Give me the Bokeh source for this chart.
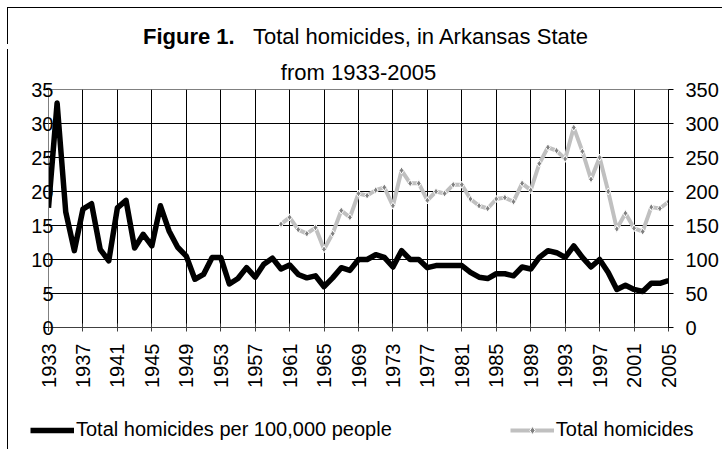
import math
from bokeh.plotting import figure
from bokeh.models import (Range1d, LinearAxis, FixedTicker, Legend, LegendItem,
                          Title, Div)
from bokeh.embed import file_html
from bokeh.resources import INLINE

years = list(range(1933, 2006))
rate_per_100k = [17.6, 33.0, 17.0, 11.3, 17.4, 18.2, 11.5, 9.8, 17.6, 18.7,
                 11.7, 13.7, 12.0, 17.9, 14.2, 11.8, 10.5, 7.1, 7.8, 10.3,
                 10.3, 6.4, 7.2, 8.8, 7.4, 9.3, 10.2, 8.6, 9.2, 7.8,
                 7.3, 7.6, 6.0, 7.3, 8.8, 8.4, 10.0, 10.0, 10.7, 10.3,
                 8.9, 11.3, 10.0, 10.0, 8.8, 9.1, 9.1, 9.1, 9.1, 8.1,
                 7.4, 7.2, 7.9, 7.9, 7.6, 8.9, 8.6, 10.3, 11.3, 11.0,
                 10.3, 12.0, 10.3, 8.9, 10.0, 8.1, 5.6, 6.2, 5.6, 5.3,
                 6.5, 6.5, 6.9]

count_years = list(range(1960, 2006))
total_homicides = [152, 162, 144, 138, 147, 115, 138, 172, 162, 197,
                   194, 202, 206, 179, 231, 212, 212, 187, 200, 197,
                   210, 210, 189, 179, 175, 189, 191, 185, 212, 202,
                   241, 265, 260, 248, 294, 259, 218, 250, 200, 145,
                   168, 146, 141, 177, 175, 185]

x_ticks = list(range(1933, 2006, 4))
left_ticks = [0, 5, 10, 15, 20, 25, 30, 35]
right_ticks = [0, 50, 100, 150, 200, 250, 300, 350]

FONT = "Liberation Sans"
TICK_FS = "20px"
RATE_STYLE = dict(line_color="black", line_width=5.5, line_join="round")
CNT_LINE_STYLE = dict(line_color="#c0c0c0", line_width=4)
CNT_PT_STYLE = dict(marker="diamond", size=7, fill_color="#808080",
                    line_color="white", line_width=1)

# ---- main chart ----
p = figure(width=715, height=345, output_backend="svg", toolbar_location=None,
           x_range=Range1d(1933, 2005), y_range=Range1d(0, 35),
           min_border_left=40, min_border_right=55, min_border_top=40,
           min_border_bottom=67, background_fill_color="white",
           border_fill_color="white")
p.styles = {"margin-left": "7px", "border-left": "1px solid black"}
p.outline_line_color = "#808080"
p.extra_y_ranges = {"count": Range1d(0, 350)}

p.xgrid.ticker = FixedTicker(ticks=x_ticks)
p.ygrid.ticker = FixedTicker(ticks=left_ticks)
p.xgrid.grid_line_color = "black"
p.ygrid.grid_line_color = "black"

xa = p.xaxis[0]
xa.ticker = FixedTicker(ticks=x_ticks)
xa.minor_tick_line_color = None
xa.major_tick_in = 4
xa.major_tick_out = 4
xa.axis_line_color = "#404040"
xa.major_tick_line_color = "#404040"
xa.major_label_orientation = math.pi / 2
xa.major_label_text_font = FONT
xa.major_label_text_font_size = TICK_FS
xa.major_label_text_color = "black"
xa.major_label_standoff = 12

ya = p.yaxis[0]
ya.ticker = FixedTicker(ticks=left_ticks)
ya.minor_tick_line_color = None
ya.major_tick_in = 0
ya.major_tick_out = 5
ya.axis_line_color = "#808080"
ya.major_tick_line_color = "black"
ya.major_label_text_font = FONT
ya.major_label_text_font_size = TICK_FS
ya.major_label_text_color = "black"
ya.major_label_standoff = -10

ra = LinearAxis(y_range_name="count", ticker=FixedTicker(ticks=right_ticks))
ra.minor_tick_line_color = None
ra.major_tick_in = 0
ra.major_tick_out = 5
ra.axis_line_color = "black"
ra.major_tick_line_color = "black"
ra.major_label_text_font = FONT
ra.major_label_text_font_size = TICK_FS
ra.major_label_text_color = "black"
ra.major_label_standoff = 12
p.add_layout(ra, "right")

p.line(years, rate_per_100k, **RATE_STYLE)
p.line(count_years, total_homicides, y_range_name="count", **CNT_LINE_STYLE)
p.scatter(count_years, total_homicides, y_range_name="count", **CNT_PT_STYLE)

sub = Title(text="from 1933-2005", align="center", text_font=FONT,
            text_font_size="22px", text_font_style="normal",
            text_color="black", standoff=10)
p.add_layout(sub, "above")

# ---- legend strip: same series, drawn outside this strip's visible range ----
lg = figure(width=715, height=57, output_backend="svg", toolbar_location=None,
            x_range=Range1d(0, 1), y_range=Range1d(0, 1),
            x_axis_location=None, y_axis_location=None, min_border=0,
            background_fill_color="white", border_fill_color="white")
lg.styles = {"margin-left": "7px", "border-left": "1px solid black"}
lg.outline_line_color = None
lg.grid.visible = False
px_rate = lg.line(years, rate_per_100k, **RATE_STYLE)
px_cnt_line = lg.line(count_years, total_homicides, **CNT_LINE_STYLE)
px_cnt_pts = lg.scatter(count_years, total_homicides, **CNT_PT_STYLE)

legend = Legend(items=[
    LegendItem(label="Total homicides per 100,000 people", renderers=[px_rate]),
    LegendItem(label="Total homicides", renderers=[px_cnt_line, px_cnt_pts]),
], location=(22, 10), orientation="horizontal")
legend.glyph_width = 44
legend.glyph_height = 20
legend.label_standoff = 2
legend.padding = 0
legend.margin = 0
legend.spacing = 118
legend.border_line_color = None
legend.background_fill_alpha = 0
legend.label_text_font = FONT
legend.label_text_font_size = "20px"
legend.label_text_color = "black"
lg.add_layout(legend, "center")

# ---- title line 1 (mixed weight) ----
title = Div(
    text='<b>Figure 1.</b>&nbsp;&nbsp;&nbsp;Total homicides, in Arkansas State',
    width=715, height=37,
    styles={"font-family": FONT, "font-size": "22px", "color": "black",
            "margin-left": "7px", "margin-top": "7px",
            "border-left": "1px solid black", "border-top": "1px solid black",
            "padding-left": "135px", "padding-top": "18px",
            "box-sizing": "border-box", "overflow": "visible",
            "line-height": "22px", "white-space": "nowrap"})

open("out.html", "w").write(file_html([title, p, lg], INLINE))
